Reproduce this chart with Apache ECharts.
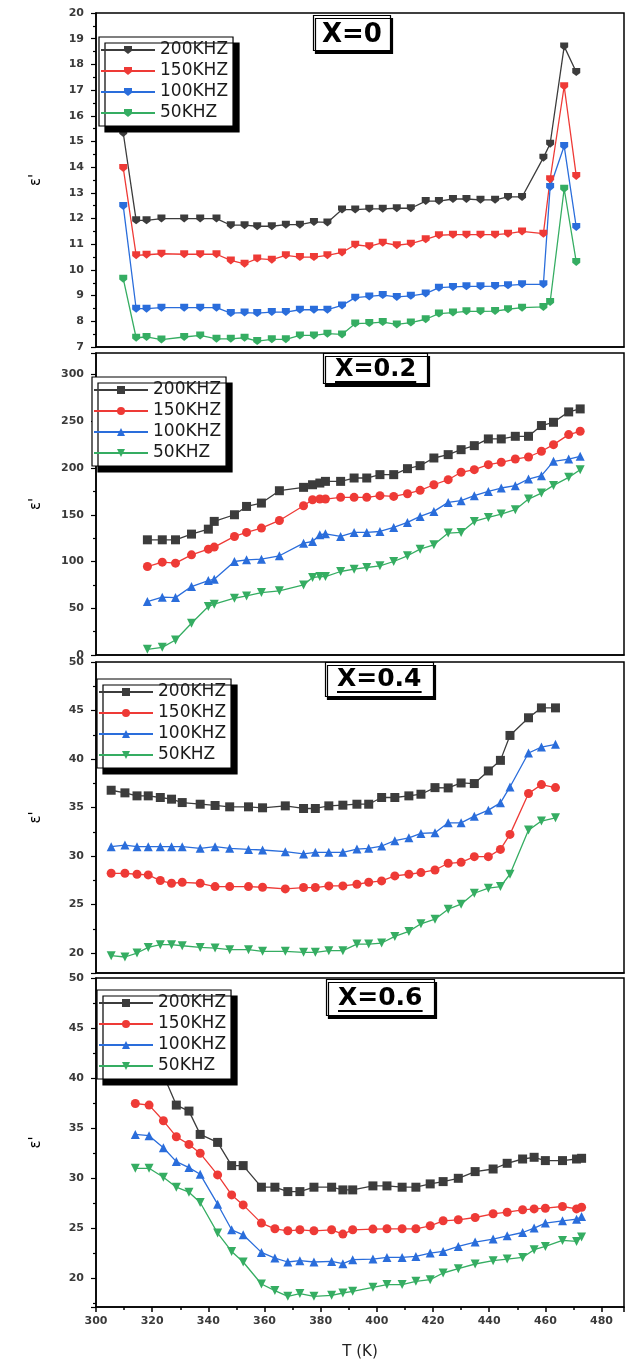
<!DOCTYPE html>
<html>
<head>
<meta charset="utf-8">
<script src="https://cdn.jsdelivr.net/npm/echarts@6/dist/echarts.min.js"></script>
<style>
  html, body { margin: 0; padding: 0; background: #fff; }
  #chart { width: 629px; height: 1362px; }
</style>
</head>
<body>
<div id="chart"></div>
<script>
// legend labels
const freqNames = ['200KHZ', '150KHZ', '100KHZ', '50KHZ']
const panelTitles = ['X=0', 'X=0.2', 'X=0.4', 'X=0.6']

// X=0
const tempsX0 = [309.7, 314.3, 318, 323.3, 331.4, 337.1, 342.9, 348, 352.9, 357.4, 362.6, 367.6, 372.6, 377.6, 382.4, 387.6, 392.3, 397.3, 402.1, 407.1, 412.1, 417.4, 422.1, 427.1, 431.9, 436.9, 442.1, 446.7, 451.7, 459.3, 461.7, 466.7, 471]
const x0f200 = [15.33, 11.93, 11.93, 12.0, 12.0, 12.0, 12.0, 11.74, 11.74, 11.70, 11.70, 11.76, 11.76, 11.87, 11.85, 12.35, 12.35, 12.38, 12.38, 12.4, 12.4, 12.68, 12.68, 12.76, 12.76, 12.73, 12.73, 12.84, 12.84, 14.37, 14.91, 18.70, 17.70]
const x0f150 = [13.97, 10.57, 10.59, 10.63, 10.61, 10.61, 10.61, 10.37, 10.24, 10.44, 10.40, 10.57, 10.50, 10.50, 10.57, 10.68, 10.98, 10.92, 11.06, 10.96, 11.02, 11.19, 11.35, 11.37, 11.37, 11.37, 11.37, 11.41, 11.50, 11.41, 13.53, 17.15, 13.66]
const x0f100 = [12.49, 8.49, 8.49, 8.53, 8.53, 8.53, 8.53, 8.32, 8.34, 8.32, 8.36, 8.36, 8.45, 8.45, 8.45, 8.62, 8.92, 8.97, 9.02, 8.95, 8.99, 9.08, 9.31, 9.34, 9.36, 9.36, 9.37, 9.40, 9.44, 9.44, 13.23, 14.82, 11.67]
const x0f50 = [9.66, 7.36, 7.39, 7.29, 7.39, 7.45, 7.32, 7.32, 7.36, 7.23, 7.30, 7.30, 7.45, 7.45, 7.52, 7.49, 7.91, 7.93, 7.97, 7.88, 7.95, 8.08, 8.30, 8.34, 8.39, 8.39, 8.40, 8.47, 8.53, 8.56, 8.75, 13.16, 10.31]

// X=0.2
const tempsX2 = [318.3, 323.6, 328.3, 334, 340, 342.1, 349.3, 353.6, 358.9, 365.3, 373.9, 377.1, 379.7, 381.7, 387.1, 391.9, 396.4, 401.1, 406, 410.9, 415.4, 420.3, 425.4, 430, 434.7, 439.7, 444.3, 449.3, 454, 458.6, 462.9, 468.3, 472.4]
const x2f200 = [123.2, 123.2, 123.2, 129.3, 134.6, 142.9, 150, 158.9, 162.5, 175.7, 179.3, 182.1, 183.9, 185.7, 185.7, 189.3, 189.3, 192.9, 192.9, 199.3, 202.5, 210.7, 214.3, 219.6, 223.9, 231.1, 231.1, 233.9, 233.9, 245.4, 248.9, 260, 263.2]
const x2f150 = [94.6, 99.3, 98.2, 107.1, 113.2, 115.4, 126.8, 131.1, 135.7, 143.9, 159.6, 166.1, 166.8, 166.8, 168.6, 168.6, 168.6, 170.4, 169.6, 172.5, 176.1, 182.1, 187.5, 195.4, 198.2, 203.6, 206.1, 209.6, 211.8, 217.9, 225, 235.7, 239.3]
const x2f100 = [57.1, 61.8, 61.4, 73.2, 79.6, 81.1, 100, 101.8, 102.5, 106.1, 119.6, 121.4, 128.6, 129.6, 126.8, 131.1, 131.1, 132.1, 136.4, 141.8, 148.2, 153.6, 163.2, 165, 170.4, 175, 178.6, 181.1, 188.2, 191.8, 207.1, 209.6, 212.5]
const x2f50 = [6.1, 8.2, 16.1, 33.9, 51.8, 54.3, 60.7, 63.2, 66.8, 68.6, 75, 82.9, 83.9, 83.9, 89.3, 91.8, 93.6, 95.4, 100, 106.1, 113.2, 117.9, 130.4, 131.1, 142.9, 147.1, 150.7, 155.4, 166.8, 173.2, 181.4, 190, 198.2]

// X=0.4
const tempsX4 = [305.4, 310.3, 314.6, 318.6, 322.9, 326.9, 330.7, 337.1, 342.4, 347.6, 354.3, 359.3, 367.4, 373.9, 378.1, 382.9, 387.9, 392.9, 397.1, 401.7, 406.4, 411.4, 415.7, 420.7, 425.4, 430, 434.7, 439.7, 444, 447.4, 454, 458.6, 463.6]
const x4f200 = [36.78, 36.51, 36.2, 36.2, 36.03, 35.86, 35.51, 35.34, 35.21, 35.07, 35.07, 34.97, 35.17, 34.90, 34.90, 35.17, 35.24, 35.34, 35.34, 36.03, 36.03, 36.2, 36.37, 37.05, 37.02, 37.53, 37.47, 38.77, 39.86, 42.43, 44.25, 45.27, 45.27]
const x4f150 = [28.22, 28.22, 28.12, 28.05, 27.47, 27.19, 27.29, 27.19, 26.85, 26.85, 26.85, 26.78, 26.61, 26.75, 26.75, 26.92, 26.92, 27.09, 27.29, 27.43, 27.95, 28.12, 28.29, 28.56, 29.25, 29.35, 29.93, 29.93, 30.68, 32.23, 36.44, 37.36, 37.05]
const x4f100 = [30.96, 31.13, 30.96, 30.96, 30.96, 30.96, 30.96, 30.79, 30.96, 30.79, 30.68, 30.62, 30.45, 30.21, 30.38, 30.38, 30.38, 30.72, 30.79, 31.03, 31.58, 31.88, 32.33, 32.40, 33.42, 33.42, 34.11, 34.73, 35.48, 37.12, 40.62, 41.23, 41.51]
const x4f50 = [19.73, 19.59, 20, 20.58, 20.86, 20.86, 20.75, 20.58, 20.51, 20.34, 20.34, 20.17, 20.17, 20.07, 20.07, 20.24, 20.24, 20.92, 20.92, 21.03, 21.71, 22.23, 23.01, 23.49, 24.52, 25.03, 26.16, 26.68, 26.85, 28.12, 32.67, 33.6, 33.94]

// X=0.6 (first three 200KHZ points sit behind the legend)
const tempsX6 = [314, 318.9, 324, 328.6, 333.1, 337.1, 343.3, 348.3, 352.4, 358.9, 363.7, 368.3, 372.6, 377.6, 383.9, 387.9, 391.4, 398.6, 403.6, 409, 413.9, 419, 423.6, 429, 435, 441.4, 446.4, 451.9, 456, 460, 466.1, 471.1, 472.9]
const x6f200 = [44.5, 42.5, 40.3, 37.29, 36.69, 34.36, 33.56, 31.24, 31.24, 29.08, 29.08, 28.64, 28.64, 29.08, 29.08, 28.81, 28.81, 29.21, 29.21, 29.08, 29.08, 29.41, 29.64, 29.97, 30.64, 30.90, 31.47, 31.90, 32.07, 31.74, 31.74, 31.90, 31.97]
const x6f150 = [37.45, 37.29, 35.72, 34.13, 33.36, 32.47, 30.31, 28.31, 27.31, 25.49, 24.92, 24.72, 24.82, 24.72, 24.82, 24.39, 24.82, 24.89, 24.92, 24.92, 24.92, 25.22, 25.72, 25.82, 26.05, 26.42, 26.58, 26.82, 26.91, 26.98, 27.15, 26.91, 27.08]
const x6f100 = [34.36, 34.23, 33.03, 31.64, 31.04, 30.37, 27.38, 24.82, 24.32, 22.56, 21.99, 21.60, 21.73, 21.60, 21.66, 21.43, 21.83, 21.89, 22.06, 22.06, 22.16, 22.49, 22.66, 23.16, 23.59, 23.89, 24.22, 24.55, 24.99, 25.49, 25.72, 25.88, 26.15]
const x6f50 = [30.97, 30.97, 30.07, 29.08, 28.58, 27.55, 24.49, 22.66, 21.60, 19.40, 18.74, 18.17, 18.44, 18.17, 18.27, 18.50, 18.67, 19.07, 19.34, 19.34, 19.67, 19.83, 20.50, 20.93, 21.40, 21.73, 21.89, 22.06, 22.83, 23.16, 23.76, 23.66, 24.09]

const panelTemps = [tempsX0, tempsX2, tempsX4, tempsX6]
const panelValues = [
  [x0f200, x0f150, x0f100, x0f50],
  [x2f200, x2f150, x2f100, x2f50],
  [x4f200, x4f150, x4f100, x4f50],
  [x6f200, x6f150, x6f100, x6f50]
]

const colors = ['#3c3c3c', '#ee3a36', '#2a6ddb', '#35ad62']
const pentagon = 'path://M0,0L10,0L10,6L5,10L0,6Z'
const symbols = [
  [pentagon, pentagon, pentagon, pentagon],
  ['rect', 'circle', 'triangle', 'triangle'],
  ['rect', 'circle', 'triangle', 'triangle'],
  ['rect', 'circle', 'triangle', 'triangle']
]

// panel frames (px)
const gridTops = [13, 353, 662, 978]
const gridHeights = [334, 302, 311, 329]
const legendLefts = [99, 92, 97, 97]
const legendTops = [37, 377, 679, 990]
const titleLefts = [313, 323, 325, 326]
const titleTops = [15, 353, 662, 979]
const titleFontSizes = [26, 24, 25, 25]
const titlePads = [[6, 9, 1, 9], [3, 12, 1, 12], [3, 12, 4, 12], [5, 12, 4, 12]]

const yRanges = [
  { min: 7, max: 20, interval: 1 },
  { min: 0, max: 323, interval: 50 },
  { min: 17.94, max: 50, splitNumber: 6 },
  { min: 17.1, max: 50, splitNumber: 6 }
]

const labelFont = { fontFamily: 'DejaVu Sans', fontSize: 11, fontWeight: 'bold', color: '#3a3a3a' }

const chart = echarts.init(document.getElementById('chart'))

const grid = []
const xAxis = []
const yAxis = []
const series = []
const legend = []
const title = []
const graphic = []

for (let p = 0; p < 4; p++) {
  const last = p === 3
  grid.push({
    left: 96, right: 5, top: gridTops[p], height: gridHeights[p],
    show: true, borderColor: '#000', borderWidth: 1.5, backgroundColor: 'transparent'
  })
  xAxis.push({
    type: 'value', gridIndex: p, min: 300, max: 488, interval: 20,
    axisLine: { show: true, lineStyle: { color: '#000', width: 1.5 } },
    axisTick: { show: last, length: 5, lineStyle: { color: '#000', width: 1.5 } },
    minorTick: { show: last, splitNumber: 2, length: 3, lineStyle: { color: '#000', width: 1.5 } },
    axisLabel: Object.assign({ show: last, margin: 9, showMaxLabel: false }, labelFont),
    splitLine: { show: false },
    name: last ? 'T (K)' : '',
    nameLocation: 'middle',
    nameGap: 38,
    nameTextStyle: { fontFamily: 'DejaVu Sans', fontSize: 15, color: '#222' }
  })
  yAxis.push(Object.assign({
    type: 'value', gridIndex: p,
    axisLine: { show: true, lineStyle: { color: '#000', width: 1.5 } },
    axisTick: { show: true, length: 5, lineStyle: { color: '#000', width: 1.2 } },
    minorTick: { show: true, splitNumber: 2, length: 3, lineStyle: { color: '#000', width: 1.2 } },
    axisLabel: Object.assign({ margin: 12, showMaxLabel: p !== 1, showMinLabel: p < 2 }, labelFont),
    splitLine: { show: false },
    name: "ε'",
    nameLocation: 'middle',
    nameRotate: 90,
    nameGap: 52,
    nameTextStyle: { fontFamily: 'DejaVu Sans', fontSize: 15, color: '#000' }
  }, yRanges[p]))

  const names = []
  for (let s = 0; s < 4; s++) {
    const name = p + ':' + freqNames[s]
    names.push(name)
    const ts = panelTemps[p]
    const vs = panelValues[p][s]
    series.push({
      name: name,
      type: 'line',
      xAxisIndex: p,
      yAxisIndex: p,
      data: ts.map((t, i) => [t, vs[i]]),
      symbol: symbols[p][s],
      symbolRotate: s === 3 && p > 0 ? 180 : 0,
      symbolSize: p === 0 ? 8 : 9,
      showAllSymbol: true,
      lineStyle: { color: colors[s], width: 1.3 },
      itemStyle: { color: colors[s] },
      animation: false
    })
  }

  legend.push({
    data: names,
    orient: 'vertical',
    left: legendLefts[p],
    top: legendTops[p],
    itemWidth: 54,
    itemHeight: 10,
    itemGap: 1,
    padding: [3, 5, 3, 1],
    backgroundColor: '#fff',
    borderColor: '#000',
    borderWidth: 1.2,
    shadowColor: '#000',
    shadowBlur: 0,
    shadowOffsetX: 6,
    shadowOffsetY: 6,
    formatter: (n) => n.split(':')[1],
    textStyle: { fontFamily: 'DejaVu Sans', fontSize: 17, color: '#1a1a1a', lineHeight: 20 }
  })

  title.push({
    text: panelTitles[p],
    left: titleLefts[p],
    top: titleTops[p],
    padding: titlePads[p],
    backgroundColor: '#fff',
    borderColor: '#000',
    borderWidth: 1.2,
    shadowColor: '#000',
    shadowBlur: 0,
    shadowOffsetX: 2,
    shadowOffsetY: 3,
    textStyle: {
      fontFamily: 'DejaVu Sans', fontSize: titleFontSizes[p], fontWeight: 'bold',
      color: '#000', lineHeight: titleFontSizes[p] + 3
    }
  })

  // underline under the boxed title text
  if (p > 0) {
    graphic.push({
      type: 'rect',
      left: titleLefts[p] + titlePads[p][3],
      top: titleTops[p] + titlePads[p][0] + titleFontSizes[p] + 1,
      shape: { width: titleFontSizes[p] * 3.385, height: 2 },
      style: { fill: '#000' },
      z: 100
    })
  }
}

chart.setOption({
  animation: false,
  backgroundColor: '#fff',
  title: title,
  legend: legend,
  grid: grid,
  xAxis: xAxis,
  yAxis: yAxis,
  series: series,
  graphic: graphic
})
</script>
</body>
</html>
